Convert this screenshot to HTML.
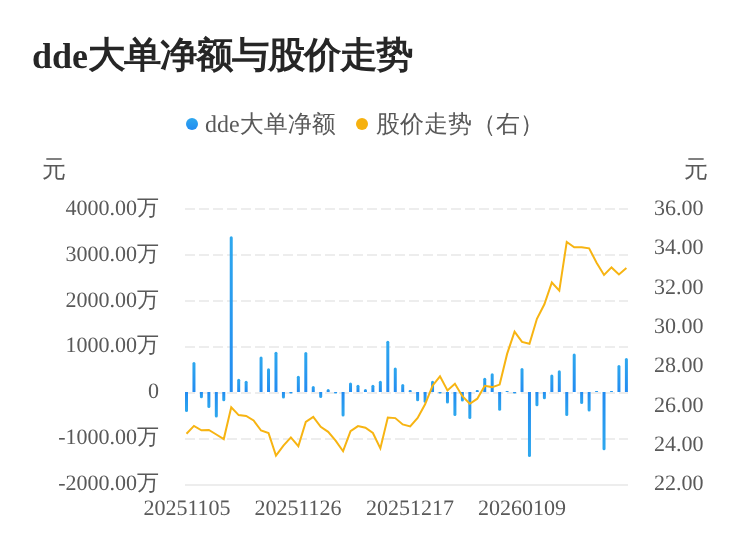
<!DOCTYPE html>
<html><head><meta charset="utf-8"><style>
html,body{margin:0;padding:0;background:#fff;width:750px;height:558px;overflow:hidden}
.t{position:absolute;will-change:transform;text-rendering:geometricPrecision;font-family:"Liberation Serif",serif;white-space:nowrap;line-height:1}
.ttl{left:32px;top:38px;font-size:36px;font-weight:bold;color:#262626}
.c{display:inline-block;transform:translate(0.6px,-1.2px) scale(1.04,1.0)}
.lg{font-size:24px;color:#595959;top:112.6px}
.ax{font-size:22px;color:#595959}
.l{text-align:right;width:150px;left:9px}
.r{left:654px}
.xl{text-align:center;width:120px;top:497px}
svg{position:absolute;left:0;top:0}
</style></head><body>
<svg width="750" height="558" viewBox="0 0 750 558">
<defs>
<linearGradient id="gp" x1="0" y1="0" x2="0" y2="1"><stop offset="0" stop-color="#2ea8ee"/><stop offset="1" stop-color="#228bf1"/></linearGradient>
<linearGradient id="gn" x1="0" y1="0" x2="0" y2="1"><stop offset="0" stop-color="#228bf1"/><stop offset="1" stop-color="#2ea8ee"/></linearGradient>
<linearGradient id="gd" x1="0" y1="0" x2="0" y2="1"><stop offset="0" stop-color="#2ea8ee"/><stop offset="1" stop-color="#228bf1"/></linearGradient>
</defs>
<line x1="185" y1="209" x2="628" y2="209" stroke="#ededed" stroke-width="2" stroke-dasharray="10 4"/>
<line x1="185" y1="255" x2="628" y2="255" stroke="#ededed" stroke-width="2" stroke-dasharray="10 4"/>
<line x1="185" y1="301" x2="628" y2="301" stroke="#ededed" stroke-width="2" stroke-dasharray="10 4"/>
<line x1="185" y1="347" x2="628" y2="347" stroke="#ededed" stroke-width="2" stroke-dasharray="10 4"/>
<line x1="185" y1="393" x2="628" y2="393" stroke="#ededed" stroke-width="2" stroke-dasharray="10 4"/>
<line x1="185" y1="439" x2="628" y2="439" stroke="#ededed" stroke-width="2" stroke-dasharray="10 4"/>
<line x1="185" y1="485" x2="628" y2="485" stroke="#ededed" stroke-width="2"/>
<path d="M185.00,392.0 V410.50 Q185.00,412.00 186.50,412.00 H186.50 Q188.00,412.00 188.00,410.50 V392.0 Z" fill="url(#gn)"/>
<path d="M192.46,392.0 V363.60 Q192.46,362.10 193.96,362.10 H193.96 Q195.46,362.10 195.46,363.60 V392.0 Z" fill="url(#gp)"/>
<path d="M199.91,392.0 V396.70 Q199.91,398.20 201.41,398.20 H201.41 Q202.91,398.20 202.91,396.70 V392.0 Z" fill="url(#gn)"/>
<path d="M207.37,392.0 V406.40 Q207.37,407.90 208.87,407.90 H208.87 Q210.37,407.90 210.37,406.40 V392.0 Z" fill="url(#gn)"/>
<path d="M214.82,392.0 V415.90 Q214.82,417.40 216.32,417.40 H216.32 Q217.82,417.40 217.82,415.90 V392.0 Z" fill="url(#gn)"/>
<path d="M222.28,392.0 V399.80 Q222.28,401.30 223.78,401.30 H223.78 Q225.28,401.30 225.28,399.80 V392.0 Z" fill="url(#gn)"/>
<path d="M229.74,392.0 V237.80 Q229.74,236.30 231.24,236.30 H231.24 Q232.74,236.30 232.74,237.80 V392.0 Z" fill="url(#gp)"/>
<path d="M237.19,392.0 V380.20 Q237.19,378.70 238.69,378.70 H238.69 Q240.19,378.70 240.19,380.20 V392.0 Z" fill="url(#gp)"/>
<path d="M244.65,392.0 V382.30 Q244.65,380.80 246.15,380.80 H246.15 Q247.65,380.80 247.65,382.30 V392.0 Z" fill="url(#gp)"/>
<path d="M259.56,392.0 V358.10 Q259.56,356.60 261.06,356.60 H261.06 Q262.56,356.60 262.56,358.10 V392.0 Z" fill="url(#gp)"/>
<path d="M267.02,392.0 V369.80 Q267.02,368.30 268.52,368.30 H268.52 Q270.02,368.30 270.02,369.80 V392.0 Z" fill="url(#gp)"/>
<path d="M274.47,392.0 V353.20 Q274.47,351.70 275.97,351.70 H275.97 Q277.47,351.70 277.47,353.20 V392.0 Z" fill="url(#gp)"/>
<path d="M281.93,392.0 V397.00 Q281.93,398.50 283.43,398.50 H283.43 Q284.93,398.50 284.93,397.00 V392.0 Z" fill="url(#gn)"/>
<path d="M289.38,392.0 V392.80 Q289.38,393.60 290.18,393.60 H291.58 Q292.38,393.60 292.38,392.80 V392.0 Z" fill="url(#gn)"/>
<path d="M296.84,392.0 V377.30 Q296.84,375.80 298.34,375.80 H298.34 Q299.84,375.80 299.84,377.30 V392.0 Z" fill="url(#gp)"/>
<path d="M304.29,392.0 V353.60 Q304.29,352.10 305.79,352.10 H305.79 Q307.29,352.10 307.29,353.60 V392.0 Z" fill="url(#gp)"/>
<path d="M311.75,392.0 V387.40 Q311.75,385.90 313.25,385.90 H313.25 Q314.75,385.90 314.75,387.40 V392.0 Z" fill="url(#gp)"/>
<path d="M319.21,392.0 V396.40 Q319.21,397.90 320.71,397.90 H320.71 Q322.21,397.90 322.21,396.40 V392.0 Z" fill="url(#gn)"/>
<path d="M326.66,392.0 V390.40 Q326.66,388.90 328.16,388.90 H328.16 Q329.66,388.90 329.66,390.40 V392.0 Z" fill="url(#gp)"/>
<path d="M334.12,392.0 V392.70 Q334.12,393.40 334.82,393.40 H336.42 Q337.12,393.40 337.12,392.70 V392.0 Z" fill="url(#gn)"/>
<path d="M341.57,392.0 V415.10 Q341.57,416.60 343.07,416.60 H343.07 Q344.57,416.60 344.57,415.10 V392.0 Z" fill="url(#gn)"/>
<path d="M349.03,392.0 V383.90 Q349.03,382.40 350.53,382.40 H350.53 Q352.03,382.40 352.03,383.90 V392.0 Z" fill="url(#gp)"/>
<path d="M356.49,392.0 V386.20 Q356.49,384.70 357.99,384.70 H357.99 Q359.49,384.70 359.49,386.20 V392.0 Z" fill="url(#gp)"/>
<path d="M363.94,392.0 V390.40 Q363.94,388.90 365.44,388.90 H365.44 Q366.94,388.90 366.94,390.40 V392.0 Z" fill="url(#gp)"/>
<path d="M371.40,392.0 V386.20 Q371.40,384.70 372.90,384.70 H372.90 Q374.40,384.70 374.40,386.20 V392.0 Z" fill="url(#gp)"/>
<path d="M378.85,392.0 V382.30 Q378.85,380.80 380.35,380.80 H380.35 Q381.85,380.80 381.85,382.30 V392.0 Z" fill="url(#gp)"/>
<path d="M386.31,392.0 V342.30 Q386.31,340.80 387.81,340.80 H387.81 Q389.31,340.80 389.31,342.30 V392.0 Z" fill="url(#gp)"/>
<path d="M393.77,392.0 V368.90 Q393.77,367.40 395.27,367.40 H395.27 Q396.77,367.40 396.77,368.90 V392.0 Z" fill="url(#gp)"/>
<path d="M401.22,392.0 V385.60 Q401.22,384.10 402.72,384.10 H402.72 Q404.22,384.10 404.22,385.60 V392.0 Z" fill="url(#gp)"/>
<path d="M408.68,392.0 V391.00 Q408.68,390.00 409.68,390.00 H410.68 Q411.68,390.00 411.68,391.00 V392.0 Z" fill="url(#gp)"/>
<path d="M416.13,392.0 V399.70 Q416.13,401.20 417.63,401.20 H417.63 Q419.13,401.20 419.13,399.70 V392.0 Z" fill="url(#gn)"/>
<path d="M423.59,392.0 V401.30 Q423.59,402.80 425.09,402.80 H425.09 Q426.59,402.80 426.59,401.30 V392.0 Z" fill="url(#gn)"/>
<path d="M431.05,392.0 V382.30 Q431.05,380.80 432.55,380.80 H432.55 Q434.05,380.80 434.05,382.30 V392.0 Z" fill="url(#gp)"/>
<path d="M438.50,392.0 V392.70 Q438.50,393.40 439.20,393.40 H440.80 Q441.50,393.40 441.50,392.70 V392.0 Z" fill="url(#gn)"/>
<path d="M445.96,392.0 V401.90 Q445.96,403.40 447.46,403.40 H447.46 Q448.96,403.40 448.96,401.90 V392.0 Z" fill="url(#gn)"/>
<path d="M453.41,392.0 V414.40 Q453.41,415.90 454.91,415.90 H454.91 Q456.41,415.90 456.41,414.40 V392.0 Z" fill="url(#gn)"/>
<path d="M460.87,392.0 V400.00 Q460.87,401.50 462.37,401.50 H462.37 Q463.87,401.50 463.87,400.00 V392.0 Z" fill="url(#gn)"/>
<path d="M468.33,392.0 V417.60 Q468.33,419.10 469.83,419.10 H469.83 Q471.33,419.10 471.33,417.60 V392.0 Z" fill="url(#gn)"/>
<path d="M475.78,392.0 V391.00 Q475.78,390.00 476.78,390.00 H477.78 Q478.78,390.00 478.78,391.00 V392.0 Z" fill="url(#gp)"/>
<path d="M483.24,392.0 V379.20 Q483.24,377.70 484.74,377.70 H484.74 Q486.24,377.70 486.24,379.20 V392.0 Z" fill="url(#gp)"/>
<path d="M490.69,392.0 V374.70 Q490.69,373.20 492.19,373.20 H492.19 Q493.69,373.20 493.69,374.70 V392.0 Z" fill="url(#gp)"/>
<path d="M498.15,392.0 V409.20 Q498.15,410.70 499.65,410.70 H499.65 Q501.15,410.70 501.15,409.20 V392.0 Z" fill="url(#gn)"/>
<path d="M505.61,392.0 V391.50 Q505.61,391.00 506.11,391.00 H508.11 Q508.61,391.00 508.61,391.50 V392.0 Z" fill="url(#gp)"/>
<path d="M513.06,392.0 V392.70 Q513.06,393.40 513.76,393.40 H515.36 Q516.06,393.40 516.06,392.70 V392.0 Z" fill="url(#gn)"/>
<path d="M520.52,392.0 V369.50 Q520.52,368.00 522.02,368.00 H522.02 Q523.52,368.00 523.52,369.50 V392.0 Z" fill="url(#gp)"/>
<path d="M527.97,392.0 V455.50 Q527.97,457.00 529.47,457.00 H529.47 Q530.97,457.00 530.97,455.50 V392.0 Z" fill="url(#gn)"/>
<path d="M535.43,392.0 V404.70 Q535.43,406.20 536.93,406.20 H536.93 Q538.43,406.20 538.43,404.70 V392.0 Z" fill="url(#gn)"/>
<path d="M542.88,392.0 V397.70 Q542.88,399.20 544.38,399.20 H544.38 Q545.88,399.20 545.88,397.70 V392.0 Z" fill="url(#gn)"/>
<path d="M550.34,392.0 V376.10 Q550.34,374.60 551.84,374.60 H551.84 Q553.34,374.60 553.34,376.10 V392.0 Z" fill="url(#gp)"/>
<path d="M557.80,392.0 V371.80 Q557.80,370.30 559.30,370.30 H559.30 Q560.80,370.30 560.80,371.80 V392.0 Z" fill="url(#gp)"/>
<path d="M565.25,392.0 V414.50 Q565.25,416.00 566.75,416.00 H566.75 Q568.25,416.00 568.25,414.50 V392.0 Z" fill="url(#gn)"/>
<path d="M572.71,392.0 V354.90 Q572.71,353.40 574.21,353.40 H574.21 Q575.71,353.40 575.71,354.90 V392.0 Z" fill="url(#gp)"/>
<path d="M580.16,392.0 V402.60 Q580.16,404.10 581.66,404.10 H581.66 Q583.16,404.10 583.16,402.60 V392.0 Z" fill="url(#gn)"/>
<path d="M587.62,392.0 V410.00 Q587.62,411.50 589.12,411.50 H589.12 Q590.62,411.50 590.62,410.00 V392.0 Z" fill="url(#gn)"/>
<path d="M595.08,392.0 V391.50 Q595.08,391.00 595.58,391.00 H597.58 Q598.08,391.00 598.08,391.50 V392.0 Z" fill="url(#gp)"/>
<path d="M602.53,392.0 V448.80 Q602.53,450.30 604.03,450.30 H604.03 Q605.53,450.30 605.53,448.80 V392.0 Z" fill="url(#gn)"/>
<path d="M609.99,392.0 V391.50 Q609.99,391.00 610.49,391.00 H612.49 Q612.99,391.00 612.99,391.50 V392.0 Z" fill="url(#gp)"/>
<path d="M617.44,392.0 V366.40 Q617.44,364.90 618.94,364.90 H618.94 Q620.44,364.90 620.44,366.40 V392.0 Z" fill="url(#gp)"/>
<path d="M624.90,392.0 V359.40 Q624.90,357.90 626.40,357.90 H626.40 Q627.90,357.90 627.90,359.40 V392.0 Z" fill="url(#gp)"/>
<circle cx="192" cy="124" r="6" fill="url(#gd)"/>
<circle cx="362" cy="124" r="6" fill="#f6b10f"/>
<polyline points="186.50,433.7 193.96,425.9 201.41,430.29999999999995 208.87,430.0 216.32,434.5 223.78,439.09999999999997 231.24,407.29999999999995 238.69,415.09999999999997 246.15,416.0 253.60,420.5 261.06,430.5 268.52,433.0 275.97,455.59999999999997 283.43,445.59999999999997 290.88,437.4 298.34,446.2 305.79,422.0 313.25,416.9 320.71,426.79999999999995 328.16,431.79999999999995 335.62,440.59999999999997 343.07,451.2 350.53,431.2 357.99,426.09999999999997 365.44,427.79999999999995 372.90,433.0 380.35,448.4 387.81,417.5 395.27,418.09999999999997 402.72,424.4 410.18,426.4 417.63,418.0 425.09,404.29999999999995 432.55,385.7 440.00,376.29999999999995 447.46,390.5 454.91,383.7 462.37,396.2 469.83,403.79999999999995 477.28,398.7 484.74,385.79999999999995 492.19,387.09999999999997 499.65,384.59999999999997 507.11,353.9 514.56,331.59999999999997 522.02,341.9 529.47,343.79999999999995 536.93,318.79999999999995 544.38,304.29999999999995 551.84,282.5 559.30,290.59999999999997 566.75,241.9 574.21,247.3 581.66,247.20000000000002 589.12,248.3 596.58,262.7 604.03,274.9 611.49,267.4 618.94,274.4 626.40,268.09999999999997" fill="none" stroke="#f7b412" stroke-width="2" stroke-linejoin="miter" stroke-miterlimit="3"/>
</svg>
<div class="t ttl">dde<span class="c">大</span><span class="c">单</span><span class="c">净</span><span class="c">额</span><span class="c">与</span><span class="c">股</span><span class="c">价</span><span class="c">走</span><span class="c">势</span></div>
<div class="t lg" style="left:205px">dde大单净额</div>
<div class="t lg" style="left:376px">股价走势（右）</div>
<div class="t ax" style="left:41.6px;top:158px;font-size:24px">元</div>
<div class="t ax" style="left:683.6px;top:158px;font-size:24px">元</div>
<div class="t ax l" style="top:197.00px">4000.00万</div>
<div class="t ax l" style="top:242.83px">3000.00万</div>
<div class="t ax l" style="top:288.66px">2000.00万</div>
<div class="t ax l" style="top:334.49px">1000.00万</div>
<div class="t ax l" style="top:380.32px">0</div>
<div class="t ax l" style="top:426.15px">-1000.00万</div>
<div class="t ax l" style="top:471.98px">-2000.00万</div>
<div class="t ax r" style="top:197.10px">36.00</div>
<div class="t ax r" style="top:236.39px">34.00</div>
<div class="t ax r" style="top:275.68px">32.00</div>
<div class="t ax r" style="top:314.97px">30.00</div>
<div class="t ax r" style="top:354.26px">28.00</div>
<div class="t ax r" style="top:393.55px">26.00</div>
<div class="t ax r" style="top:432.84px">24.00</div>
<div class="t ax r" style="top:472.13px">22.00</div>
<div class="t ax xl" style="left:126.5px">20251105</div>
<div class="t ax xl" style="left:238.3px">20251126</div>
<div class="t ax xl" style="left:350.2px">20251217</div>
<div class="t ax xl" style="left:462.0px">20260109</div>
</body></html>
